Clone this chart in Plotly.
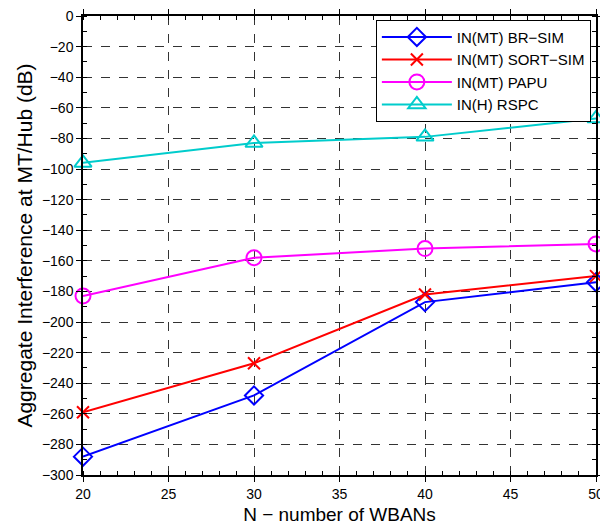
import plotly.graph_objects as go

n_wbans = [20, 30, 40, 50]
br_sim = [-288, -248, -187, -174]
sort_sim = [-259, -227, -182, -170]
papu = [-183, -158, -152, -149]
rspc = [-96, -83, -79, -67]

series = [
    ("IN(MT) BR\u2212SIM", br_sim, "#0000ff", "diamond-open", 14),
    ("IN(MT) SORT\u2212SIM", sort_sim, "#ff0000", "x-thin-open", 12),
    ("IN(MT) PAPU", papu, "#ff00ff", "circle-open", 15),
    ("IN(H) RSPC", rspc, "#00cccc", "triangle-up-open", 15),
]

fig = go.Figure()
for name, vals, color, sym, size in series:
    fig.add_trace(go.Scatter(
        x=n_wbans, y=vals, name=name, mode="lines+markers",
        line=dict(color=color, width=2),
        marker=dict(symbol=sym, size=size, color=color, line=dict(width=2, color=color)),
        cliponaxis=False,
    ))

font = "Liberation Sans, Arial, Helvetica, sans-serif"
fig.update_layout(
    width=600, height=525,
    margin=dict(l=83, r=4, t=16, b=50, autoexpand=False),
    paper_bgcolor="white", plot_bgcolor="white",
    font=dict(family=font, size=14, color="black"),
    legend=dict(
        x=0.99, y=0.992, xanchor="right", yanchor="top",
        bordercolor="black", borderwidth=1, bgcolor="white",
        font=dict(size=15), tracegroupgap=0, itemwidth=70,
    ),
    showlegend=True,
)
fig.update_xaxes(
    range=[20, 50], tickmode="linear", tick0=20, dtick=5,
    ticks="outside", ticklen=5, tickcolor="black",
    showline=True, linecolor="black", linewidth=1.5, mirror="ticks",
    showgrid=True, gridcolor="#333333", griddash="dash", gridwidth=1,
    zeroline=False, automargin=False, ticklabeloverflow="allow",
    minor=dict(dtick=1, ticks="inside", ticklen=4, tickcolor="black", showgrid=False),
    title=dict(text="N \u2212 number of WBANs", font=dict(size=19), standoff=10),
)
fig.update_yaxes(
    range=[-300, 0], tickmode="linear", tick0=0, dtick=20,
    ticks="outside", ticklen=5, tickcolor="black",
    showline=True, linecolor="black", linewidth=1.5, mirror="ticks",
    showgrid=True, gridcolor="#333333", griddash="dash", gridwidth=1,
    zeroline=False, automargin=False, ticklabeloverflow="allow",
    minor=dict(dtick=10, ticks="inside", ticklen=4, tickcolor="black", showgrid=False),
    title=dict(text="Aggregate Interference at MT/Hub (dB)", font=dict(size=21), standoff=4),
)

fig.write_html(
    "out.html",
    config={"displayModeBar": False},
    post_script="document.body.style.margin='0';document.body.style.padding='0';document.body.style.overflow='hidden';",
)
